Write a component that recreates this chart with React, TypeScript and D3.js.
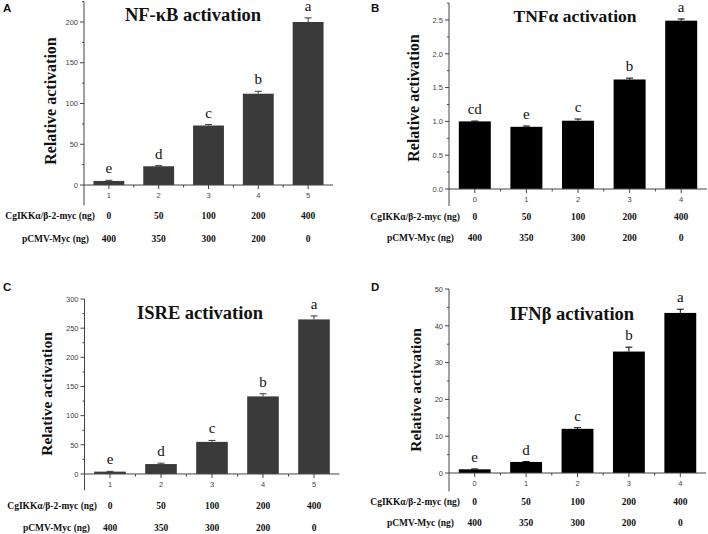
import React from "react";
import * as d3 from "d3";

// ---- data ----
const categoriesAC = [1, 2, 3, 4, 5];
const categoriesBD = [0, 1, 2, 3, 4];
const cgikkAmounts = ["0", "50", "100", "200", "400"];
const pcmvAmounts = ["400", "350", "300", "200", "0"];

const nfkbValues = [5, 23, 73, 112, 200];
const nfkbErrors = [0.8, 0.8, 1.2, 3, 5];
const nfkbLetters = ["e", "d", "c", "b", "a"];

const tnfValues = [1.0, 0.92, 1.01, 1.62, 2.49];
const tnfErrors = [0.005, 0.012, 0.025, 0.02, 0.025];
const tnfLetters = ["cd", "e", "c", "b", "a"];

const isreValues = [4, 17, 55, 133, 265];
const isreErrors = [0.5, 1.5, 2.5, 4.5, 6];
const isreLetters = ["e", "d", "c", "b", "a"];

const ifnValues = [1, 3, 12, 33, 43.5];
const ifnErrors = [0.1, 0.1, 0.3, 1.2, 1.0];
const ifnLetters = ["e", "d", "c", "b", "a"];

const ticksA = [0, 50, 100, 150, 200];
const ticksB = [0, 0.5, 1.0, 1.5, 2.0, 2.5];
const ticksC = [0, 50, 100, 150, 200, 250, 300];
const ticksD = [0, 10, 20, 30, 40, 50];

const SERIF = "'Liberation Serif', 'Times New Roman', serif";
const SANS = "'Liberation Sans', Arial, sans-serif";

interface PanelProps {
  letter: string;
  letterX: number;
  letterY: number;
  title: string;
  titleX: number;
  titleY: number;
  titleSize: number;
  ylabelX: number;
  ylabelY: number;
  ylabelSize: number;
  categories: number[];
  values: number[];
  errors: number[];
  letters: string[];
  yTicks: number[];
  yFormat: string;
  yDomain: [number, number];
  yRange: [number, number];
  xRange: [number, number];
  barColor: string;
  row1Y: number;
  row1Right: number;
  row2Y: number;
  row2Right: number;
}

function Panel(p: PanelProps) {
  const first = p.categories[0];
  const last = p.categories[p.categories.length - 1];
  const x = d3.scaleLinear().domain([first - 0.5, last + 0.5]).range(p.xRange);
  const y = d3.scaleLinear().domain(p.yDomain).range(p.yRange);
  const step = x(first + 1) - x(first);
  const bw = step * 0.62;
  const y0 = y(0);
  const axisColor = "#444";
  const fmt = d3.format(p.yFormat);
  const tickStep = p.yTicks[1] - p.yTicks[0];
  const minor = d3.range(p.yTicks[0] + tickStep / 2, p.yDomain[1] + 1e-9, tickStep)
    .filter((v) => !p.yTicks.some((t) => Math.abs(t - v) < 1e-9));
  const xMinor = p.categories.slice(0, -1).map((c) => c + 0.5);

  return (
    <g>
      <text x={p.letterX} y={p.letterY} fontFamily={SANS} fontWeight="bold" fontSize={11.5} fill="#111">{p.letter}</text>
      <text x={p.titleX} y={p.titleY} textAnchor="middle" fontFamily={SERIF} fontWeight="bold" fontSize={p.titleSize} fill="#111">{p.title}</text>
      <text transform={`translate(${p.ylabelX},${p.ylabelY}) rotate(-90)`} textAnchor="middle" fontFamily={SERIF}
        fontWeight="bold" fontSize={p.ylabelSize} fill="#111">Relative activation</text>

      {p.values.map((v, i) => {
        const cx = x(p.categories[i]);
        const top = y(v);
        const et = y(v + p.errors[i]);
        return (
          <g key={i}>
            <rect x={cx - bw / 2} y={top} width={bw} height={y0 - top} fill={p.barColor} />
            <line x1={cx} x2={cx} y1={top} y2={et} stroke={p.barColor} strokeWidth={1} />
            <line x1={cx - 3.5} x2={cx + 3.5} y1={et} y2={et} stroke={p.barColor} strokeWidth={1} />
            <text x={cx} y={et - 7} textAnchor="middle" fontFamily={SERIF} fontSize={15} fill="#111">{p.letters[i]}</text>
          </g>
        );
      })}

      {/* y axis */}
      <line x1={p.xRange[0]} x2={p.xRange[0]} y1={p.yRange[0]} y2={p.yRange[1]} stroke={axisColor} strokeWidth={1} />
      {p.yTicks.map((t) => (
        <g key={t}>
          <line x1={p.xRange[0] - 4} x2={p.xRange[0]} y1={y(t)} y2={y(t)} stroke={axisColor} />
          <text x={p.xRange[0] - 6} y={y(t) + 2.7} textAnchor="end" fontFamily={SANS} fontSize={7.5} fill="#444">{fmt(t)}</text>
        </g>
      ))}
      {minor.map((t) => (
        <line key={t} x1={p.xRange[0] - 2} x2={p.xRange[0]} y1={y(t)} y2={y(t)} stroke={axisColor} />
      ))}

      {/* x axis */}
      <line x1={p.xRange[0]} x2={p.xRange[1]} y1={y0} y2={y0} stroke={axisColor} strokeWidth={1} />
      {p.categories.map((c) => (
        <g key={c}>
          <line x1={x(c)} x2={x(c)} y1={y0} y2={y0 + 4} stroke={axisColor} />
          <text x={x(c)} y={y0 + 13} textAnchor="middle" fontFamily={SANS} fontSize={7.5} fill="#444">{c}</text>
        </g>
      ))}
      {xMinor.map((c) => (
        <line key={c} x1={x(c)} x2={x(c)} y1={y0} y2={y0 + 2.5} stroke={axisColor} />
      ))}

      {/* amount rows */}
      <text x={p.row1Right} y={p.row1Y} textAnchor="end" fontFamily={SERIF} fontWeight="bold" fontSize={9.5} fill="#111">
        CgIKKα/β-2-myc (ng)
      </text>
      <text x={p.row2Right} y={p.row2Y} textAnchor="end" fontFamily={SERIF} fontWeight="bold" fontSize={9.5} fill="#111">
        pCMV-Myc (ng)
      </text>
      {p.categories.map((c, i) => (
        <g key={c}>
          <text x={x(c)} y={p.row1Y} textAnchor="middle" fontFamily={SERIF} fontWeight="bold" fontSize={9.5} fill="#111">{cgikkAmounts[i]}</text>
          <text x={x(c)} y={p.row2Y} textAnchor="middle" fontFamily={SERIF} fontWeight="bold" fontSize={9.5} fill="#111">{pcmvAmounts[i]}</text>
        </g>
      ))}
    </g>
  );
}

export default function App() {
  return (
    <svg width={708} height={534} style={{position: "absolute", left: 0, top: 0, background: "#fff"}}>
      <rect width={708} height={534} fill="#fff" />
      <Panel letter="A" letterX={3} letterY={11.5} title="NF-κB activation" titleX={193} titleY={21} titleSize={18.5}
        ylabelX={56} ylabelY={101} ylabelSize={16}
        categories={categoriesAC} values={nfkbValues} errors={nfkbErrors} letters={nfkbLetters}
        yTicks={ticksA} yFormat="d" yDomain={[-25, 225]} yRange={[205.4, 1.6]} xRange={[84, 333]}
        barColor="#3a3a3a" row1Y={219} row1Right={95} row2Y={242} row2Right={89} />
      <Panel letter="B" letterX={371} letterY={11.5} title="TNFα activation" titleX={575} titleY={22} titleSize={17.5}
        ylabelX={419} ylabelY={98} ylabelSize={16}
        categories={categoriesBD} values={tnfValues} errors={tnfErrors} letters={tnfLetters}
        yTicks={ticksB} yFormat=".1f" yDomain={[-0.25, 2.75]} yRange={[205.9, 3.1]} xRange={[449, 707]}
        barColor="#000" row1Y={220} row1Right={460} row2Y={241} row2Right={454} />
      <Panel letter="C" letterX={3} letterY={291} title="ISRE activation" titleX={200} titleY={319} titleSize={18.5}
        ylabelX={52} ylabelY={394} ylabelSize={15.5}
        categories={categoriesAC} values={isreValues} errors={isreErrors} letters={isreLetters}
        yTicks={ticksC} yFormat="d" yDomain={[-28, 300]} yRange={[490.3, 299]} xRange={[84.5, 339.5]}
        barColor="#3a3a3a" row1Y={509} row1Right={97} row2Y={531} row2Right={90} />
      <Panel letter="D" letterX={371} letterY={291} title="IFNβ activation" titleX={572} titleY={320} titleSize={18.5}
        ylabelX={421} ylabelY={390} ylabelSize={15.5}
        categories={categoriesBD} values={ifnValues} errors={ifnErrors} letters={ifnLetters}
        yTicks={ticksD} yFormat="d" yDomain={[-5, 50]} yRange={[491.4, 289]} xRange={[449, 706]}
        barColor="#000" row1Y={505} row1Right={460} row2Y={526} row2Right={454} />
    </svg>
  );
}
